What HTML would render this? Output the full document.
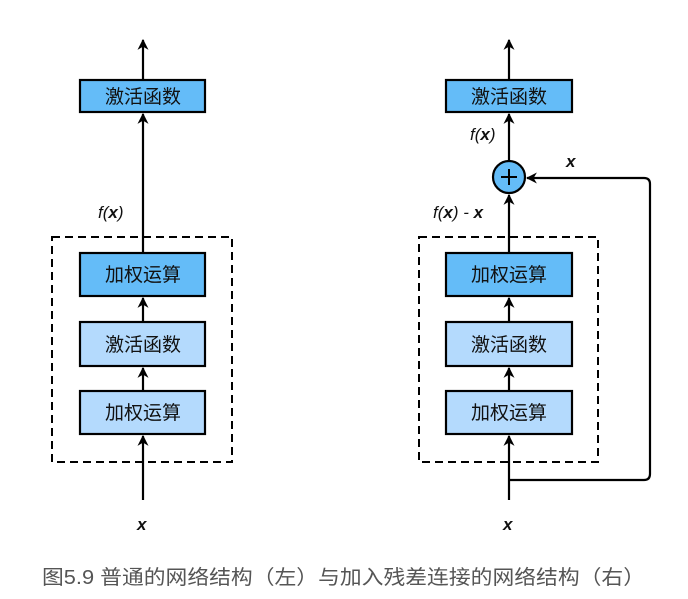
<!DOCTYPE html>
<html><head><meta charset="utf-8"><style>
html,body{margin:0;padding:0;background:#fff;}
svg{display:block;}
.cj{font-family:"Liberation Sans","Noto Sans CJK SC",sans-serif;font-size:19px;fill:#111;}
.it{font-family:"Liberation Sans",sans-serif;font-size:17px;font-style:italic;fill:#111;}
</style></head><body>
<svg width="688" height="599" viewBox="0 0 688 599" xmlns="http://www.w3.org/2000/svg">
<defs>
<marker id="a" viewBox="0 0 10 10" refX="9" refY="5" markerWidth="5" markerHeight="5" orient="auto-start-reverse">
<path d="M0,0 L10,5 L0,10 L3,5 z" fill="#000"/>
</marker>
</defs>
<g stroke="#000" stroke-width="2.2" fill="none">
<!-- left -->
<rect x="52" y="237" width="180" height="225" stroke-dasharray="8,5" stroke-width="2"/>
<line x1="143" y1="500" x2="143" y2="436" marker-end="url(#a)"/>
<line x1="143" y1="391" x2="143" y2="368" marker-end="url(#a)"/>
<line x1="143" y1="322" x2="143" y2="298" marker-end="url(#a)"/>
<line x1="143" y1="253" x2="143" y2="114" marker-end="url(#a)"/>
<line x1="143" y1="80" x2="143" y2="40" marker-end="url(#a)"/>
<!-- right -->
<rect x="419" y="237" width="179" height="225" stroke-dasharray="8,5" stroke-width="2"/>
<line x1="509" y1="500" x2="509" y2="436" marker-end="url(#a)"/>
<line x1="509" y1="391" x2="509" y2="368" marker-end="url(#a)"/>
<line x1="509" y1="322" x2="509" y2="298" marker-end="url(#a)"/>
<line x1="509" y1="253" x2="509" y2="195" marker-end="url(#a)"/>
<line x1="509" y1="161" x2="509" y2="114" marker-end="url(#a)"/>
<line x1="509" y1="80" x2="509" y2="40" marker-end="url(#a)"/>
<path d="M509,480 H644 Q650,480 650,474 V184 Q650,178 644,178 H527" marker-end="url(#a)"/>
</g>
<g stroke="#000" stroke-width="2.2">
<rect x="80" y="80" width="125" height="32" fill="#64bcf8"/>
<rect x="80" y="253" width="125" height="43" fill="#64bcf8"/>
<rect x="80" y="322" width="125" height="44" fill="#b4dafd"/>
<rect x="80" y="391" width="125" height="43" fill="#b4dafd"/>
<rect x="446" y="80" width="126" height="32" fill="#64bcf8"/>
<rect x="446" y="253" width="126" height="43" fill="#64bcf8"/>
<rect x="446" y="322" width="126" height="44" fill="#b4dafd"/>
<rect x="446" y="391" width="126" height="43" fill="#b4dafd"/>
<circle cx="509" cy="177" r="16" fill="#64bcf8"/>
<line x1="501" y1="177" x2="517" y2="177" stroke-width="2"/>
<line x1="509" y1="169" x2="509" y2="185" stroke-width="2"/>
</g>
<g class="cj" text-anchor="middle">
<text x="143" y="103">激活函数</text>
<text x="143" y="281">加权运算</text>
<text x="143" y="351">激活函数</text>
<text x="143" y="419">加权运算</text>
<text x="509" y="103">激活函数</text>
<text x="509" y="281">加权运算</text>
<text x="509" y="351">激活函数</text>
<text x="509" y="419">加权运算</text>
</g>
<g class="it">
<text x="98" y="218">f(<tspan font-weight="bold">x</tspan>)</text>
<text x="470" y="140">f(<tspan font-weight="bold">x</tspan>)</text>
<text x="433" y="218">f(<tspan font-weight="bold">x</tspan>) - <tspan font-weight="bold">x</tspan></text>
<text x="566" y="167" font-weight="bold">x</text>
<text x="137" y="530" font-weight="bold">x</text>
<text x="503" y="530" font-weight="bold">x</text>
</g>
<text x="42" y="584" textLength="603" lengthAdjust="spacingAndGlyphs" style="font-family:'Liberation Sans','Noto Sans CJK SC',sans-serif;font-size:20px;fill:#555;">图5.9 普通的网络结构（左）与加入残差连接的网络结构（右）</text>
</svg>
</body></html>
